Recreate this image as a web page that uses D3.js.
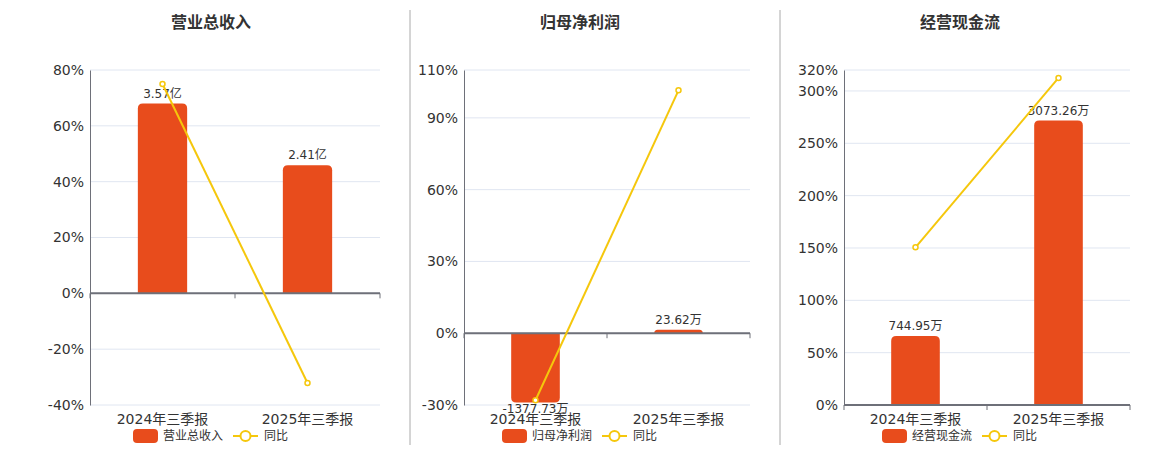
<!DOCTYPE html>
<html>
<head>
<meta charset="utf-8">
<script src="https://cdn.jsdelivr.net/npm/d3@7"></script>
<style>
  html, body { margin: 0; padding: 0; background: #fff; }
  svg { display: block; font-family: "DejaVu Sans", "Noto Sans CJK SC", sans-serif; }
</style>
</head>
<body>
<svg id="chart" width="1160" height="450"></svg>
<script>
// 数据
const categories = ["2024年三季报", "2025年三季报"];

const revenue = [3.57, 2.41];            // 亿
const revenueLabels = ["3.57亿", "2.41亿"];
const revenueYoY = [75.0, -32.1];        // %

const netProfit = [-1377.73, 23.62];     // 万
const netProfitLabels = ["-1377.73万", "23.62万"];
const netProfitYoY = [-28.0, 101.5];

const cashFlow = [744.95, 3073.26];      // 万
const cashFlowLabels = ["744.95万", "3073.26万"];
const cashFlowYoY = [150.6, 312.4];

const ticks1 = [-40, -20, 0, 20, 40, 60, 80];
const ticks2 = [-30, 0, 30, 60, 90, 110];
const ticks3 = [0, 50, 100, 150, 200, 250, 300, 320];

const BAR = "#e84c1c", LINE = "#f5c70c";

const panels = [
  { title: "营业总收入", name: "营业总收入", bars: revenue, labels: revenueLabels, yoy: revenueYoY,
    ticks: ticks1, pct: [-40, 80], barDom: [-2.1, 4.2], x0: 90, x1: 380, cx: 211 },
  { title: "归母净利润", name: "归母净利润", bars: netProfit, labels: netProfitLabels, yoy: netProfitYoY,
    ticks: ticks2, pct: [-30, 110], barDom: [-1425, 5225], x0: 464, x1: 750, cx: 580 },
  { title: "经营现金流", name: "经营现金流", bars: cashFlow, labels: cashFlowLabels, yoy: cashFlowYoY,
    ticks: ticks3, pct: [0, 320], barDom: [0, 3620], x0: 844, x1: 1130, cx: 960 }
];

const svg = d3.select("#chart");
const plotTop = 70, plotBottom = 405;

// 分隔线
[410, 780].forEach(x => {
  svg.append("line").attr("x1", x).attr("x2", x).attr("y1", 10).attr("y2", 445)
    .attr("stroke", "#aaa").attr("stroke-width", 1);
});

// 圆角柱子（只圆远离零线的一端）
function barPath(x, w, y0, y1, r) {
  const h = Math.abs(y1 - y0);
  r = Math.min(r, h, w / 2);
  if (y1 < y0) {
    return `M${x},${y0}V${y1 + r}Q${x},${y1} ${x + r},${y1}H${x + w - r}Q${x + w},${y1} ${x + w},${y1 + r}V${y0}Z`;
  }
  return `M${x},${y0}V${y1 - r}Q${x},${y1} ${x + r},${y1}H${x + w - r}Q${x + w},${y1} ${x + w},${y1 - r}V${y0}Z`;
}

panels.forEach(p => {
  const g = svg.append("g");
  const x = d3.scaleBand().domain(categories).range([p.x0, p.x1]);
  const y = d3.scaleLinear().domain(p.pct).range([plotBottom, plotTop]);
  const yb = d3.scaleLinear().domain(p.barDom).range([plotBottom, plotTop]);
  const zero = y(0);
  const barEnd = d => {
    let yv = yb(d);
    if (Math.abs(yv - zero) < 3.5) yv = zero - 3.5 * (d < 0 ? -1 : 1);
    return yv;
  };

  // 标题
  g.append("text").attr("x", p.cx).attr("y", 22).attr("text-anchor", "middle")
    .attr("dominant-baseline", "central").attr("font-size", 16).attr("font-weight", "bold")
    .attr("fill", "#333").text(p.title);

  // 网格
  g.selectAll(".grid").data(p.ticks).join("line")
    .attr("x1", p.x0).attr("x2", p.x1).attr("y1", d => y(d)).attr("y2", d => y(d))
    .attr("stroke", "#e0e6f1").attr("stroke-width", 1);

  // y轴
  const yAxis = g.append("g").attr("transform", `translate(${p.x0},0)`)
    .call(d3.axisLeft(y).tickValues(p.ticks).tickFormat(d => d + "%").tickSize(0).tickPadding(6));
  yAxis.select(".domain").attr("stroke", "#6e7079");
  yAxis.selectAll("text").attr("font-size", 14).attr("fill", "#333")
    .attr("font-family", "DejaVu Sans, sans-serif");

  // 柱子
  const bw = x.bandwidth() * 0.34;
  g.selectAll(".bar").data(p.bars).join("path")
    .attr("fill", BAR)
    .attr("d", (d, i) => {
      const cx = x(categories[i]) + x.bandwidth() / 2;
      return barPath(cx - bw / 2, bw, zero, barEnd(d), 5);
    });

  // 柱子标签
  g.selectAll(".blabel").data(p.bars).join("text")
    .attr("x", (d, i) => x(categories[i]) + x.bandwidth() / 2)
    .attr("y", d => d >= 0 ? barEnd(d) - 6 : barEnd(d) + 10)
    .attr("text-anchor", "middle").attr("font-size", 12).attr("fill", "#333")
    .text((d, i) => p.labels[i]);

  // x轴（零线）
  const xAxis = g.append("g").attr("transform", `translate(0,${zero})`);
  xAxis.append("line").attr("x1", p.x0).attr("x2", p.x1).attr("stroke", "#6e7079").attr("stroke-width", 2);
  const edges = [p.x0, ...categories.map(c => x(c) + x.bandwidth())];
  xAxis.selectAll(".tk").data(edges).join("line")
    .attr("x1", d => d).attr("x2", d => d).attr("y1", 0).attr("y2", 5)
    .attr("stroke", "#6e7079").attr("stroke-width", 1);

  // 类别标签
  g.selectAll(".cat").data(categories).join("text")
    .attr("x", d => x(d) + x.bandwidth() / 2).attr("y", 419)
    .attr("text-anchor", "middle").attr("dominant-baseline", "central")
    .attr("font-size", 14).attr("fill", "#333").text(d => d);

  // 同比折线
  const line = d3.line()
    .x((d, i) => x(categories[i]) + x.bandwidth() / 2)
    .y(d => y(d));
  g.append("path").datum(p.yoy).attr("d", line)
    .attr("fill", "none").attr("stroke", LINE).attr("stroke-width", 2);
  g.selectAll(".pt").data(p.yoy).join("circle")
    .attr("cx", (d, i) => x(categories[i]) + x.bandwidth() / 2).attr("cy", d => y(d))
    .attr("r", 2.5).attr("fill", "#fff").attr("stroke", LINE).attr("stroke-width", 1.5);

  // 图例
  const lg = g.append("g").attr("transform", `translate(${p.cx - 78},436)`);
  lg.append("rect").attr("x", 0).attr("y", -7).attr("width", 25).attr("height", 14)
    .attr("rx", 4).attr("fill", BAR);
  lg.append("text").attr("x", 30).attr("y", 0).attr("dominant-baseline", "central")
    .attr("font-size", 12).attr("fill", "#333").text(p.name);
  lg.append("line").attr("x1", 100).attr("x2", 125).attr("y1", 0).attr("y2", 0)
    .attr("stroke", LINE).attr("stroke-width", 2);
  lg.append("circle").attr("cx", 112.5).attr("cy", 0).attr("r", 5)
    .attr("fill", "#fff").attr("stroke", LINE).attr("stroke-width", 2);
  lg.append("text").attr("x", 131).attr("y", 0).attr("dominant-baseline", "central")
    .attr("font-size", 12).attr("fill", "#333").text("同比");
});
</script>
</body>
</html>
